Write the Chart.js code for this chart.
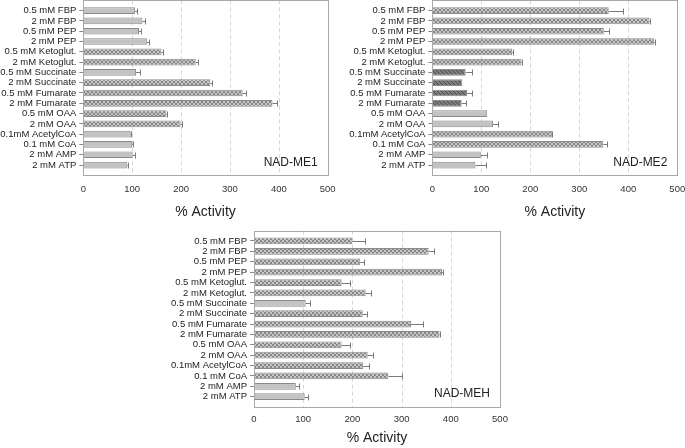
<!DOCTYPE html>
<html lang="en">
<head>
<meta charset="UTF-8">
<title>NAD-ME activity</title>
<script src="https://cdn.jsdelivr.net/npm/chart.js"></script>
<style>
  body { margin: 0; background: #fff; }
  #wrap { position: relative; width: 685px; height: 448px; overflow: hidden; }
  canvas { position: absolute; }
  #me1 { left: 0; top: 0; }
  #me2 { left: 338px; top: 0; }
  #meh { left: 165px; top: 225px; }
</style>
</head>
<body>
<div id="wrap">
  <canvas id="me1" width="345" height="225"></canvas>
  <canvas id="me2" width="347" height="225"></canvas>
  <canvas id="meh" width="355" height="223"></canvas>
</div>
<script>
// effectors, same order in the three panels
const categories = ['0.5 mM FBP', '2 mM FBP', '0.5 mM PEP', '2 mM PEP',
  '0.5 mM Ketoglut.', '2 mM Ketoglut.', '0.5 mM Succinate', '2 mM Succinate',
  '0.5 mM Fumarate', '2 mM Fumarate', '0.5 mM OAA', '2 mM OAA',
  '0.1mM AcetylCoA', '0.1 mM CoA', '2 mM AMP', '2 mM ATP'];
const xTicks = [0, 100, 200, 300, 400, 500];
const axisTitle = '% Activity';

// NAD-ME1
const me1Values = [106, 121, 114, 130, 160, 230, 108, 260, 326, 387, 170, 199, 97, 100, 101, 90];
const me1Errors = [4, 5, 4, 4, 4, 5, 9, 3, 7, 10, 1, 3, 1, 1, 5, 1];
const me1Fill   = ['s', 's', 's', 's', 'x', 'x', 's', 'x', 'x', 'x', 'x', 'x', 's', 's', 's', 's'];

// NAD-ME2
const me2Values = [360, 443, 350, 453, 163, 182, 68, 61, 71, 60, 112, 124, 244, 349, 99, 88];
const me2Errors = [30, 2, 10, 2, 1, 1, 12, 0, 11, 9, 0, 10, 1, 8, 12, 22];
const me2Fill   = ['x', 'x', 'x', 'x', 'x', 'x', 'd', 'd', 'd', 'd', 's', 's', 'x', 'x', 's', 's'];

// NAD-MEH
const mehValues = [200, 355, 216, 382, 178, 227, 105, 221, 319, 377, 178, 231, 222, 273, 85, 103];
const mehErrors = [25, 10, 7, 3, 17, 10, 8, 8, 25, 2, 17, 10, 11, 28, 7, 7];
const mehFill   = ['x', 'x', 'x', 'x', 'x', 'x', 's', 'x', 'x', 'x', 'x', 'x', 'x', 'x', 's', 's'];

const FONT = "'Liberation Sans', Arial, sans-serif";

// hatch patterns
function makePattern(base, line, cross) {
  const c = document.createElement('canvas');
  c.width = 4; c.height = 4;
  const g = c.getContext('2d');
  g.fillStyle = base;
  g.fillRect(0, 0, 4, 4);
  g.strokeStyle = line;
  g.lineWidth = 1;
  g.beginPath();
  g.moveTo(-1, -1); g.lineTo(5, 5);
  if (cross) { g.moveTo(5, -1); g.lineTo(-1, 5); }
  g.stroke();
  return g.createPattern(c, 'repeat');
}
const fills = {
  s: '#c3c3c3',
  x: makePattern('#c6c6c6', '#888888', true),
  d: makePattern('#7c7c7c', '#4e4e4e', false)
};

// frame, dashed gridlines, error bars and panel name
const panelPlugin = {
  id: 'panel',
  beforeDatasetsDraw(chart) {
    const { ctx, chartArea: a, scales: { x } } = chart;
    const half = (a.bottom - a.top) / categories.length / 2;
    ctx.save();
    ctx.strokeStyle = '#d6d6d6';
    ctx.lineWidth = 1;
    ctx.setLineDash([4, 3]);
    x.ticks.forEach(t => {
      if (t.value <= x.min || t.value >= x.max) return;
      const px = Math.round(x.getPixelForValue(t.value)) + 0.5;
      ctx.beginPath();
      ctx.moveTo(px, a.top - half);
      ctx.lineTo(px, a.bottom + half);
      ctx.stroke();
    });
    ctx.restore();
  },
  afterDatasetsDraw(chart, args, opts) {
    const { ctx, chartArea: a, scales: { x, y } } = chart;
    const half = (a.bottom - a.top) / categories.length / 2;
    const vals = chart.data.datasets[0].data;
    ctx.save();
    // error bars (plus side only)
    ctx.strokeStyle = '#7a7a7a';
    ctx.lineWidth = 1;
    opts.errors.forEach((e, i) => {
      if (!e) return;
      const x0 = x.getPixelForValue(vals[i]);
      const x1 = Math.round(x.getPixelForValue(vals[i] + e)) + 0.5;
      const py = Math.round(y.getPixelForValue(i)) + 0.5;
      ctx.beginPath();
      ctx.moveTo(x0, py); ctx.lineTo(x1, py);
      ctx.moveTo(x1, py - 3); ctx.lineTo(x1, py + 3);
      ctx.stroke();
    });
    // frame
    ctx.strokeStyle = '#a8a8a8';
    const l = Math.round(a.left) + 0.5, r = Math.round(a.right) + 0.5;
    const t = Math.round(a.top - half) + 0.5, b = Math.round(a.bottom + half) + 0.5;
    ctx.strokeRect(l, t, r - l, b - t);
    // panel name
    ctx.fillStyle = '#222';
    ctx.font = '12px ' + FONT;
    ctx.textAlign = 'right';
    ctx.textBaseline = 'middle';
    ctx.fillText(opts.name, a.right - 10, a.bottom - 8);
    ctx.restore();
  }
};

function noPad(s) {
  s.paddingLeft = 0; s.paddingRight = 0; s.paddingTop = 0; s.paddingBottom = 0;
}

function makeChart(id, values, errors, fillKeys, name, box) {
  return new Chart(document.getElementById(id), {
    type: 'bar',
    data: {
      labels: categories,
      datasets: [{
        data: values,
        backgroundColor: fillKeys.map(k => fills[k]),
        borderColor: '#8a8a8a',
        borderWidth: 1,
        barPercentage: 0.65,
        categoryPercentage: 1
      }]
    },
    options: {
      indexAxis: 'y',
      responsive: false,
      animation: false,
      layout: { padding: { left: 0, top: box.top, right: box.right, bottom: 0 } },
      plugins: {
        legend: { display: false },
        tooltip: { enabled: false },
        panel: { errors: errors, name: name }
      },
      scales: {
        x: {
          min: xTicks[0],
          max: xTicks[xTicks.length - 1],
          afterBuildTicks: s => { s.ticks = xTicks.map(v => ({ value: v })); },
          grid: { display: false },
          border: { display: false },
          ticks: { padding: box.tickPad, color: '#333', font: { family: FONT, size: 9.5 } },
          title: {
            display: true,
            text: axisTitle,
            color: '#222',
            padding: { top: 0, bottom: box.titlePad },
            font: { family: FONT, size: 14 }
          },
          afterFit: s => { s.height = box.xHeight; noPad(s); }
        },
        y: {
          offset: true,
          grid: {
            display: true,
            offset: false,
            drawOnChartArea: false,
            drawTicks: true,
            tickLength: 4,
            tickColor: '#8a8a8a'
          },
          border: { display: false },
          ticks: { autoSkip: false, padding: 3, color: '#222', font: { family: FONT, size: 9.5 } },
          afterFit: s => { s.width = box.yWidth; noPad(s); }
        }
      }
    },
    plugins: [panelPlugin]
  });
}

makeChart('me1', me1Values, me1Errors, me1Fill, 'NAD-ME1',
  { top: 5.5, right: 17.3, yWidth: 83.3, xHeight: 54.8, tickPad: 5, titlePad: 4.5 });
makeChart('me2', me2Values, me2Errors, me2Fill, 'NAD-ME2',
  { top: 5.5, right: 7.7, yWidth: 94.3, xHeight: 54.8, tickPad: 5, titlePad: 4.5 });
makeChart('meh', mehValues, mehErrors, mehFill, 'NAD-MEH',
  { top: 10.8, right: 20, yWidth: 89, xHeight: 46.1, tickPad: 4, titlePad: 1 });
</script>
</body>
</html>
